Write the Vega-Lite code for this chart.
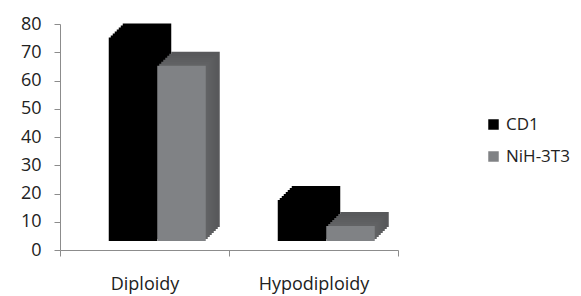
{
  "$schema": "https://vega.github.io/schema/vega-lite/v6.json",
  "width": 338,
  "height": 226,
  "autosize": {"type": "none"},
  "padding": {"left": 60, "top": 24, "right": 183, "bottom": 46},
  "background": "white",
  "config": {"view": {"stroke": null}, "font": "Open Sans"},
  "data": {"values": [
    {"category": "Diploidy", "series": "CD1", "value": 72},
    {"category": "Diploidy", "series": "NiH-3T3", "value": 62},
    {"category": "Hypodiploidy", "series": "CD1", "value": 14.5},
    {"category": "Hypodiploidy", "series": "NiH-3T3", "value": 5.3}
  ]},
  "encoding": {
    "x": {"field": "category", "type": "nominal", "sort": null,
      "scale": {"paddingInner": 0, "paddingOuter": 0},
      "axis": {"title": null, "labelAngle": 0, "labelFontSize": 18, "labelColor": "#222", "domainColor": "#8c8c8c", "tickColor": "#8c8c8c", "tickSize": 6, "tickBand": "extent", "labelPadding": 19}},
    "y": {"field": "value", "type": "quantitative",
      "scale": {"domain": [0, 80]},
      "axis": {"title": null, "values": [0,10,20,30,40,50,60,70,80], "grid": false, "labelFontSize": 18, "labelColor": "#222", "domainColor": "#8c8c8c", "tickColor": "#8c8c8c", "tickSize": 6, "labelPadding": 13}}
  },
  "layer": [
    {"transform": [{"filter": "datum.series == 'CD1'"}], "mark": {"type": "bar", "width": 48.5, "xOffset": 2.5, "yOffset": -23, "color": "#000000"}},
    {"transform": [{"filter": "datum.series == 'CD1'"}], "mark": {"type": "bar", "width": 48.5, "xOffset": 0.5, "yOffset": -21, "color": "#000000"}},
    {"transform": [{"filter": "datum.series == 'CD1'"}], "mark": {"type": "bar", "width": 48.5, "xOffset": -1.5, "yOffset": -19, "color": "#000000"}},
    {"transform": [{"filter": "datum.series == 'CD1'"}], "mark": {"type": "bar", "width": 48.5, "xOffset": -3.5, "yOffset": -17, "color": "#000000"}},
    {"transform": [{"filter": "datum.series == 'CD1'"}], "mark": {"type": "bar", "width": 48.5, "xOffset": -5.5, "yOffset": -15, "color": "#000000"}},
    {"transform": [{"filter": "datum.series == 'CD1'"}], "mark": {"type": "bar", "width": 48.5, "xOffset": -7.5, "yOffset": -13, "color": "#000000"}},
    {"transform": [{"filter": "datum.series == 'CD1'"}], "mark": {"type": "bar", "width": 48.5, "xOffset": -9.5, "yOffset": -11, "color": "#000000"}},
    {"transform": [{"filter": "datum.series == 'CD1'"}], "mark": {"type": "bar", "width": 48.5, "xOffset": -11.5, "yOffset": -9},
      "encoding": {"color": {"field": "series", "type": "nominal", "scale": {"domain": ["CD1", "NiH-3T3"], "range": ["#000000", "#808285"]},
        "legend": {"title": null, "orient": "none", "legendX": 425, "legendY": 92, "symbolType": "square", "symbolSize": 110, "labelFontSize": 17, "labelColor": "#222", "rowPadding": 14, "symbolStrokeWidth": 0}}}},
    {"transform": [{"filter": "datum.series == 'NiH-3T3'"}], "mark": {"type": "bar", "width": 48.5, "xOffset": 51, "yOffset": -23, "color": "#58595b"}},
    {"transform": [{"filter": "datum.series == 'NiH-3T3'"}], "mark": {"type": "bar", "width": 48.5, "xOffset": 49, "yOffset": -21, "color": "#58595b"}},
    {"transform": [{"filter": "datum.series == 'NiH-3T3'"}], "mark": {"type": "bar", "width": 48.5, "xOffset": 47, "yOffset": -19, "color": "#5a5b5d"}},
    {"transform": [{"filter": "datum.series == 'NiH-3T3'"}], "mark": {"type": "bar", "width": 48.5, "xOffset": 45, "yOffset": -17, "color": "#5c5d5f"}},
    {"transform": [{"filter": "datum.series == 'NiH-3T3'"}], "mark": {"type": "bar", "width": 48.5, "xOffset": 43, "yOffset": -15, "color": "#5e5f61"}},
    {"transform": [{"filter": "datum.series == 'NiH-3T3'"}], "mark": {"type": "bar", "width": 48.5, "xOffset": 41, "yOffset": -13, "color": "#606163"}},
    {"transform": [{"filter": "datum.series == 'NiH-3T3'"}], "mark": {"type": "bar", "width": 48.5, "xOffset": 39, "yOffset": -11, "color": "#626365"}},
    {"transform": [{"filter": "datum.series == 'NiH-3T3'"}], "mark": {"type": "bar", "width": 48.5, "xOffset": 37, "yOffset": -9},
      "encoding": {"color": {"field": "series", "type": "nominal", "scale": {"domain": ["CD1", "NiH-3T3"], "range": ["#000000", "#808285"]}, "legend": null}}}
  ]
}
